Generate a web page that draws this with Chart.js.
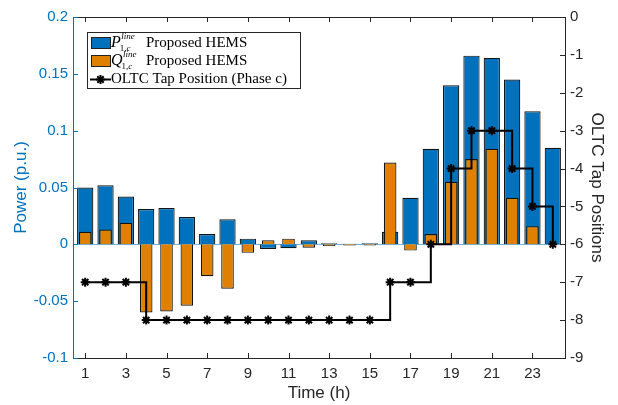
<!DOCTYPE html>
<html>
<head>
<meta charset="utf-8">
<script src="https://cdn.jsdelivr.net/npm/chart.js@4.4.1/dist/chart.umd.min.js"></script>
<style>
  body { margin: 0; background: #fff; }
  #c { display: block; }
</style>
</head>
<body>
<canvas id="c" width="618" height="405"></canvas>
<script>
var hours = [1,2,3,4,5,6,7,8,9,10,11,12,13,14,15,16,17,18,19,20,21,22,23,24];
var pLine = [0.050,0.052,0.042,0.031,0.032,0.024,0.009,0.022,0.005,-0.004,-0.0035,0.0035,
             0.001,0.0005,0.001,0.011,0.041,0.084,0.140,0.166,0.164,0.145,0.117,0.085];
var qLine = [0.011,0.013,0.019,-0.060,-0.059,-0.054,-0.028,-0.039,-0.0075,0.0035,0.005,-0.003,
             -0.0015,-0.001,-0.001,0.072,-0.0055,0.009,0.055,0.075,0.084,0.041,0.016,0.0005];
var tapPos = [-7,-7,-7,-8,-8,-8,-8,-8,-8,-8,-8,-8,-8,-8,-8,-7,-7,-6,-4,-3,-3,-4,-5,-6];
var xTicks = [1,3,5,7,9,11,13,15,17,19,21,23];

var BLUE = '#0072BD';
var ORANGE = '#E08000';
var DARK = '#262626';
var EDGE = '#141414';
var SANS = '"Liberation Sans", Arial, sans-serif';
var SERIF = '"Liberation Serif", "Times New Roman", serif';

function xy(vals) {
  return hours.map(function(h, i){ return {x: h, y: vals[i]}; });
}

function drawStar(ctx, x, y, r) {
  ctx.beginPath();
  ctx.moveTo(x - r, y); ctx.lineTo(x + r, y);
  ctx.moveTo(x, y - r); ctx.lineTo(x, y + r);
  var d = r * 0.707;
  ctx.moveTo(x - d, y - d); ctx.lineTo(x + d, y + d);
  ctx.moveTo(x - d, y + d); ctx.lineTo(x + d, y - d);
  ctx.stroke();
}

// baseline at zero, matlab style
var baselinePlugin = {
  id: 'baseline',
  beforeDatasetsDraw: function(chart) {
    var ctx = chart.ctx, a = chart.chartArea;
    var y0 = Math.round(chart.scales.y.getPixelForValue(0)) + 0.5;
    ctx.save();
    ctx.strokeStyle = 'rgba(0,114,189,0.55)';
    ctx.lineWidth = 1;
    ctx.beginPath(); ctx.moveTo(a.left, y0); ctx.lineTo(a.right, y0); ctx.stroke();
    ctx.restore();
  }
};

// inward ticks + top border
var ticksPlugin = {
  id: 'innerTicks',
  afterDraw: function(chart) {
    var ctx = chart.ctx, a = chart.chartArea, s = chart.scales;
    var len = 5;
    ctx.save();
    ctx.lineWidth = 1;
    ctx.strokeStyle = DARK;
    ctx.beginPath();
    ctx.moveTo(a.left, a.top + 0.5); ctx.lineTo(a.right, a.top + 0.5);
    xTicks.forEach(function(h){
      var x = Math.round(s.x.getPixelForValue(h)) + 0.5;
      ctx.moveTo(x, a.bottom); ctx.lineTo(x, a.bottom - len);
      ctx.moveTo(x, a.top); ctx.lineTo(x, a.top + len);
    });
    s.y2.ticks.forEach(function(t){
      var y = Math.round(s.y2.getPixelForValue(t.value)) + 0.5;
      ctx.moveTo(a.right, y); ctx.lineTo(a.right - len, y);
    });
    ctx.stroke();
    ctx.strokeStyle = BLUE;
    ctx.beginPath();
    s.y.ticks.forEach(function(t){
      var y = Math.round(s.y.getPixelForValue(t.value)) + 0.5;
      ctx.moveTo(a.left, y); ctx.lineTo(a.left + len, y);
    });
    ctx.stroke();
    ctx.restore();
  }
};

var legendPlugin = {
  id: 'texLegend',
  afterDraw: function(chart) {
    var ctx = chart.ctx;
    ctx.save();
    ctx.fillStyle = '#fff';
    ctx.fillRect(87, 32, 214, 56);
    ctx.strokeStyle = DARK;
    ctx.lineWidth = 1;
    ctx.strokeRect(87.5, 32.5, 213, 56);

    var rows = [
      {sym: 'P', color: BLUE, base: 47, box: 37},
      {sym: 'Q', color: ORANGE, base: 65, box: 55}
    ];
    rows.forEach(function(r){
      ctx.fillStyle = r.color;
      ctx.fillRect(91, r.box, 19, 11);
      ctx.strokeStyle = '#222';
      ctx.strokeRect(91.5, r.box + 0.5, 19, 11);
      ctx.fillStyle = '#000';
      ctx.textBaseline = 'alphabetic';
      ctx.textAlign = 'left';
      ctx.font = 'italic 16px ' + SERIF;
      ctx.fillText(r.sym, 111, r.base);
      var w = ctx.measureText(r.sym).width;
      ctx.font = 'italic 9px ' + SERIF;
      ctx.fillText('line', 111 + w + 0.5, r.base - 8);
      ctx.font = '9px ' + SERIF;
      ctx.fillText('1,', 111 + w - 1, r.base + 4);
      var w1 = ctx.measureText('1,').width;
      ctx.font = 'italic 9px ' + SERIF;
      ctx.fillText('c', 111 + w - 1 + w1, r.base + 4);
      ctx.font = '15px ' + SERIF;
      ctx.fillText('Proposed HEMS', 146, r.base);
    });

    ctx.strokeStyle = '#000';
    ctx.lineWidth = 2;
    ctx.beginPath(); ctx.moveTo(90, 79.5); ctx.lineTo(111, 79.5); ctx.stroke();
    drawStar(ctx, 100.5, 79.5, 4.5);
    ctx.fillStyle = '#000';
    ctx.font = '15px ' + SERIF;
    ctx.fillText('OLTC Tap Position (Phase c)', 111, 82.5);
    ctx.restore();
  }
};

new Chart(document.getElementById('c'), {
  type: 'bar',
  data: {
    datasets: [
      {
        type: 'line',
        label: 'OLTC Tap Position (Phase c)',
        data: xy(tapPos),
        yAxisID: 'y2',
        stepped: 'before',
        borderColor: '#000',
        borderWidth: 2,
        pointStyle: 'star',
        pointRadius: 4.5,
        pointBorderWidth: 2,
        pointBorderColor: '#000',
        pointBackgroundColor: '#000',
        fill: false,
        order: 0
      },
      {
        label: 'Q line',
        data: xy(qLine),
        yAxisID: 'y',
        backgroundColor: ORANGE,
        borderColor: EDGE,
        borderWidth: 1.2,
        grouped: false,
        categoryPercentage: 1,
        barPercentage: 0.62,
        order: 1
      },
      {
        label: 'P line',
        data: xy(pLine),
        yAxisID: 'y',
        backgroundColor: BLUE,
        borderColor: EDGE,
        borderWidth: 1.2,
        grouped: false,
        categoryPercentage: 1,
        barPercentage: 0.8,
        order: 2
      }
    ]
  },
  options: {
    responsive: false,
    animation: false,
    layout: { padding: { top: 17, left: 0, right: 0, bottom: 0 } },
    plugins: { legend: { display: false }, tooltip: { enabled: false } },
    scales: {
      x: {
        type: 'linear',
        min: 0.4,
        max: 24.6,
        offset: false,
        grid: { display: false, drawTicks: false },
        border: { display: true, color: DARK, width: 1 },
        afterBuildTicks: function(s){ s.ticks = xTicks.map(function(v){ return {value: v}; }); },
        ticks: { color: DARK, padding: 7, autoSkip: false, maxRotation: 0,
                 font: { family: SANS, size: 15 } },
        title: { display: true, text: 'Time (h)', color: DARK,
                 font: { family: SANS, size: 17 }, padding: { top: 0, bottom: 1 } },
        afterFit: function(s){ s.height = 47; }
      },
      y: {
        position: 'left',
        min: -0.1,
        max: 0.2,
        grid: { display: false, drawTicks: false },
        border: { display: true, color: BLUE, width: 1 },
        ticks: { stepSize: 0.05, color: BLUE, padding: 5,
                 font: { family: SANS, size: 15 },
                 callback: function(v){ return String(Math.round(v * 100) / 100); } },
        title: { display: true, text: 'Power (p.u.)', color: BLUE,
                 font: { family: SANS, size: 17 }, padding: { top: 11, bottom: 0 } },
        afterFit: function(s){ s.width = 73; }
      },
      y2: {
        position: 'right',
        min: -9,
        max: 0,
        grid: { display: false, drawTicks: false },
        border: { display: true, color: DARK, width: 1 },
        ticks: { stepSize: 1, color: DARK, padding: 5,
                 font: { family: SANS, size: 15 } },
        title: { display: true, text: 'OLTC Tap Positions', color: DARK,
                 font: { family: SANS, size: 17 }, padding: { top: 11, bottom: 0 } },
        afterFit: function(s){ s.width = 53; }
      }
    }
  },
  plugins: [baselinePlugin, ticksPlugin, legendPlugin]
});
</script>
</body>
</html>
